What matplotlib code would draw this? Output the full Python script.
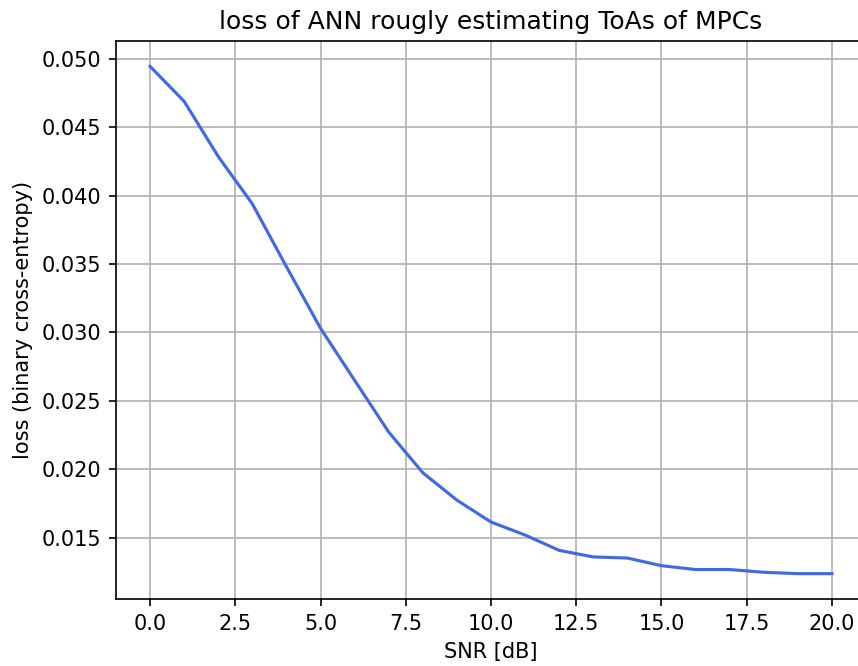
import matplotlib
matplotlib.use("Agg")
import matplotlib.pyplot as plt

# SNR values and corresponding loss
snr_db = [0, 1, 2, 3, 4, 5, 6, 7, 8, 9, 10,
          11, 12, 13, 14, 15, 16, 17, 18, 19, 20]
loss = [0.04944, 0.04688, 0.04285, 0.03939, 0.0348, 0.0303, 0.0265, 0.02272,
        0.01975, 0.01775, 0.01615, 0.01520, 0.01408, 0.01360, 0.01352,
        0.01296, 0.01268, 0.01268, 0.01248, 0.01238, 0.01238]

DPI = 150
fig = plt.figure(figsize=(858 / DPI, 666 / DPI), dpi=DPI)
# the right spine of the original is cut off by the image edge
ax = fig.add_axes([116 / 858, 1 - 599 / 666, (866 - 116) / 858, (599 - 41) / 666])

ax.plot(snr_db, loss, color='royalblue')
ax.grid(True)
ax.set_title('loss of ANN rougly estimating ToAs of MPCs')
ax.set_xlabel('SNR [dB]')
ax.set_ylabel('loss (binary cross-entropy)')

fig.savefig('out.png', dpi=DPI)
